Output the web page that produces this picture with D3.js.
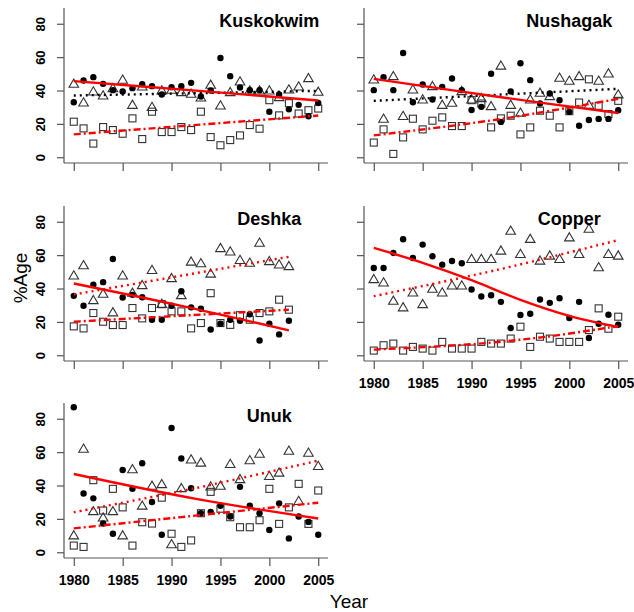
<!DOCTYPE html>
<html>
<head>
<meta charset="utf-8">
<script src="https://cdn.jsdelivr.net/npm/d3@7"></script>
<style>
  html, body { margin: 0; padding: 0; background: #fff; }
  svg { display: block; font-family: "Liberation Sans", Arial, sans-serif; }
</style>
</head>
<body>
<svg id="chart" width="634" height="612"></svg>
<script>
// ---------------- DATA ----------------
const yearTicks = [1980, 1985, 1990, 1995, 2000, 2005];
const yTicks = [0, 20, 40, 60, 80];

const years26 = [1980,1981,1982,1983,1984,1985,1986,1987,1988,1989,1990,1991,1992,1993,1994,1995,1996,1997,1998,1999,2000,2001,2002,2003,2004,2005];
const years23 = [1980,1981,1982,1983,1984,1985,1986,1987,1988,1989,1990,1991,1992,1993,1994,1995,1996,1997,1998,1999,2000,2001,2002];

const panelNames = ["Kuskokwim", "Nushagak", "Deshka", "Copper", "Unuk"];

// Kuskokwim
const kuskokwimCircles   = [33,46,48,44,40.2,39.4,41.4,43.8,42.6,37.6,42,42.6,44.6,36.4,40,59.5,48.6,41.8,40.2,40.2,27.3,37.6,28.7,31.4,24.6,32.5];
const kuskokwimTriangles = [43.6,32.4,39,36.6,41,46,31,42,29.7,39.6,40,38.6,37.6,35.4,43,30.6,38.6,45,39.6,39.6,39.6,35.6,40.2,42,47,38.8];
const kuskokwimSquares   = [21.3,17.3,8.2,18.1,16.3,14.1,23.3,10.9,27.3,15.1,15.1,18.1,16.3,27.3,12.1,7.2,10.3,13.1,19.3,17.1,34.2,25.1,32.4,26.2,28.2,29.2];
// Nushagak
const nushagakCircles    = [40.2,48,40.2,62.5,33,43.6,34.6,42.2,47.2,40.2,28.3,30.2,50,21.2,39.4,56.3,46.2,32.2,38.2,34.2,27.2,18.9,22.3,23,23,28.2];
const nushagakTriangles  = [46.2,22.7,48.2,24.3,40.2,34.2,42.2,31,32.2,39.2,34.2,35,30.2,54.5,31,26.3,34.2,38.2,36.2,47.2,45.4,48.2,31,45.4,49.8,37.2];
const nushagakSquares    = [8.8,16.7,2,11.9,23.1,16.7,21.9,23.9,18.7,18.7,34.2,32.2,17.9,23.3,24.9,13.7,17.9,27.9,24.9,17.9,27.6,32.8,46.7,30.8,25.9,33.8];
// Deshka (1980-2002)
const deshkaCircles      = [35.6,29.7,42.3,43.8,57.7,34.6,36.2,34.8,21.3,21.3,29.7,38.4,28.7,27.9,15.4,18.9,21.3,20.7,24.6,8.8,18.9,12.5,20.7];
const deshkaTriangles    = [47.4,53.5,32.6,36.4,25.3,47.4,37,41.6,50.7,30.4,45.8,35.6,55.7,54.7,48.5,63.8,61.8,56.7,55,67,56,54,53];
const deshkaSquares      = [17.3,16.1,25.3,20.1,18.1,18.1,28.3,22.1,28.3,30.6,26.3,26.3,16.1,19.3,37.2,19.3,18.2,24,21.3,25.3,26.3,33.3,27.3];
// Copper
const copperCircles      = [52.3,52.3,61.3,69.5,58.3,66.3,59.3,54.3,56.5,55.1,39.4,35.2,36,32,16.3,24.1,24.9,33.4,31.4,34.2,22.3,32,10.3,18.9,24.3,18.3];
const copperTriangles    = [45.2,43.2,32.2,28.3,37.2,30.2,39.4,37.2,41.4,41.4,57.3,57.3,57.3,62.3,74.2,60.3,69.3,56.3,59.3,57.3,70.2,60.3,75.4,52.3,60.3,59.3];
const copperSquares      = [2.8,6,7,2.8,5,4,2.8,8,4,4,4,8,7,7,10,17.1,5,11.1,10,8,8,8,15.1,28.1,15.9,23.1];
// Unuk
const unukCircles        = [86.9,35.2,32.3,17.2,11.1,49.3,38,53.3,30.1,10.5,74.5,56.2,38.4,23.4,24.2,27.9,21.4,39.2,27.9,23.4,13.3,29.3,8.3,21.4,18.2,10.5];
const unukTriangles      = [9.7,61.6,24.2,20.4,24.2,9.7,49.3,27.5,39.4,40.4,4.4,38,55.2,53.3,39,39.4,52.5,43.4,54.7,58.6,45.3,47.3,60.4,30.3,59.2,51.3];
const unukSquares        = [4,3.2,43.2,25,38,26.9,4,18,17.2,32.7,11.1,3.2,7.1,23.4,36.2,26.1,21,15,15,19.2,38,17,26.9,41,17,37];

// Fitted trend lines: [year, value]
const kuskokwimFitCircles   = [[1980,45.6],[1992.5,39.9],[2005,34]];
const kuskokwimFitTriangles = [[1980,37],[2005,39.8]];
const kuskokwimFitSquares   = [[1980,13.7],[2005,25]];
const nushagakFitCircles    = [[1980,47],[1992.5,36.4],[2005,26.5]];
const nushagakFitTriangles  = [[1980,33.8],[2005,41]];
const nushagakFitSquares    = [[1980,13.1],[1992.5,22.5],[2005,35]];
const deshkaFitCircles      = [[1980,43],[1991,29.6],[2002,14.9]];
const deshkaFitTriangles    = [[1980,36.4],[2002,59]];
const deshkaFitSquares      = [[1980,20.1],[2002,27.3]];
const copperFitCircles      = [[1980,64.3],[1985,55.4],[1990,45],[1995,33.2],[2000,23.6],[2005,16.9]];
const copperFitTriangles    = [[1980,35.4],[1992.5,51],[2005,69]];
const copperFitSquares      = [[1980,3.4],[1990,6.6],[1997.5,11],[2005,17.5]];
const unukFitCircles        = [[1980,46.9],[1992.5,32],[2005,20.2]];
const unukFitTriangles      = [[1980,24],[1992.5,38.5],[2005,54.9]];
const unukFitSquares        = [[1980,14.3],[2005,29.7]];

// colour of each trend (red = significant, black = not)
const fitColors = {
  Kuskokwim: ["#ff0000", "#000000", "#ff0000"],
  Nushagak:  ["#ff0000", "#000000", "#ff0000"],
  Deshka:    ["#ff0000", "#ff0000", "#ff0000"],
  Copper:    ["#ff0000", "#ff0000", "#ff0000"],
  Unuk:      ["#ff0000", "#ff0000", "#ff0000"]
};

// ---------------- LAYOUT ----------------
const panels = [
  {name:"Kuskokwim", col:0, row:0, years:years26, c:kuskokwimCircles, t:kuskokwimTriangles, s:kuskokwimSquares, fc:kuskokwimFitCircles, ft:kuskokwimFitTriangles, fs:kuskokwimFitSquares, yLab:true,  xLab:false},
  {name:"Nushagak",  col:1, row:0, years:years26, c:nushagakCircles,  t:nushagakTriangles,  s:nushagakSquares,  fc:nushagakFitCircles,  ft:nushagakFitTriangles,  fs:nushagakFitSquares,  yLab:false, xLab:false},
  {name:"Deshka",    col:0, row:1, years:years23, c:deshkaCircles,    t:deshkaTriangles,    s:deshkaSquares,    fc:deshkaFitCircles,    ft:deshkaFitTriangles,    fs:deshkaFitSquares,    yLab:true,  xLab:false},
  {name:"Copper",    col:1, row:1, years:years26, c:copperCircles,    t:copperTriangles,    s:copperSquares,    fc:copperFitCircles,    ft:copperFitTriangles,    fs:copperFitSquares,    yLab:false, xLab:true},
  {name:"Unuk",      col:0, row:2, years:years26, c:unukCircles,      t:unukTriangles,      s:unukSquares,      fc:unukFitCircles,      ft:unukFitTriangles,      fs:unukFitSquares,      yLab:true,  xLab:true}
];

const colX = [[64, 328], [364, 628]];
const rowY = [[163, 8], [361, 206], [558, 403]];
const axisColor = "#555";
const markStroke = "#333";

const svg = d3.select("#chart");

const triPath = "M0,-5.4L4.8,2.8L-4.8,2.8Z";

panels.forEach(p => {
  const x = d3.scaleLinear().domain([1979, 2006]).range(colX[p.col]);
  const y = d3.scaleLinear().domain([-3.44, 89.44]).range(rowY[p.row]);
  const g = svg.append("g");

  // L-shaped box
  g.append("line").attr("x1", x.range()[0]).attr("x2", x.range()[0])
    .attr("y1", y.range()[0]).attr("y2", y.range()[1])
    .attr("stroke", axisColor).attr("stroke-width", 1.2);
  g.append("line").attr("x1", x.range()[0]).attr("x2", x.range()[1])
    .attr("y1", y.range()[0]).attr("y2", y.range()[0])
    .attr("stroke", axisColor).attr("stroke-width", 1.2);

  // Y axis
  const yAxis = d3.axisLeft(y).tickValues(yTicks).tickSize(7).tickSizeOuter(0).tickFormat(p.yLab ? d3.format("d") : "");
  const ya = g.append("g").attr("transform", `translate(${x.range()[0]},0)`).call(yAxis);
  ya.select(".domain").remove();
  ya.selectAll(".tick line").attr("stroke", axisColor).attr("stroke-width", 1.2);
  ya.selectAll(".tick text")
    .attr("x", null).attr("dy", null)
    .attr("transform", "translate(-19,0) rotate(-90)")
    .attr("text-anchor", "middle")
    .attr("fill", "#000")
    .style("font-size", "13px").style("font-weight", "bold")
    .style("font-family", "'Liberation Sans', Arial, sans-serif");

  // X axis
  const xAxis = d3.axisBottom(x).tickValues(yearTicks).tickSize(8).tickSizeOuter(0).tickFormat(p.xLab ? d3.format("d") : "");
  const xa = g.append("g").attr("transform", `translate(0,${y.range()[0]})`).call(xAxis);
  xa.select(".domain").remove();
  xa.selectAll(".tick line").attr("stroke", axisColor).attr("stroke-width", 1.2);
  xa.selectAll(".tick text")
    .attr("y", 27).attr("dy", null)
    .attr("fill", "#000")
    .style("font-size", "14px").style("font-weight", "bold")
    .style("font-family", "'Liberation Sans', Arial, sans-serif");

  // squares
  g.selectAll(".sq").data(p.s).enter().append("rect")
    .attr("x", (d, i) => x(p.years[i]) - 3.5).attr("y", d => y(d) - 3.5)
    .attr("width", 7).attr("height", 7)
    .attr("fill", "none").attr("stroke", markStroke).attr("stroke-width", 1.1);
  // triangles
  g.selectAll(".tr").data(p.t).enter().append("path")
    .attr("d", triPath)
    .attr("transform", (d, i) => `translate(${x(p.years[i])},${y(d)})`)
    .attr("fill", "none").attr("stroke", markStroke).attr("stroke-width", 1.1);
  // circles
  g.selectAll(".ci").data(p.c).enter().append("circle")
    .attr("cx", (d, i) => x(p.years[i])).attr("cy", d => y(d))
    .attr("r", 3.2).attr("fill", "#000");

  // trend lines
  const line = d3.line().x(d => x(d[0])).y(d => y(d[1])).curve(d3.curveCatmullRom.alpha(0.5));
  const cols = fitColors[p.name];
  g.append("path").attr("d", line(p.fs)).attr("fill", "none")
    .attr("stroke", cols[2]).attr("stroke-width", 2.4).attr("stroke-dasharray", "7,3,2,3");
  g.append("path").attr("d", line(p.ft)).attr("fill", "none")
    .attr("stroke", cols[1]).attr("stroke-width", 2.4).attr("stroke-dasharray", "2,4");
  g.append("path").attr("d", line(p.fc)).attr("fill", "none")
    .attr("stroke", cols[0]).attr("stroke-width", 2.4);

  // title
  g.append("text").attr("x", x(2000)).attr("y", y(78))
    .attr("text-anchor", "middle")
    .style("font-size", "18px").style("font-weight", "bold")
    .attr("fill", "#000")
    .text(p.name);
});

// axis titles
svg.append("text").attr("transform", "translate(27,278) rotate(-90)")
  .attr("text-anchor", "middle").style("font-size", "19px").attr("fill", "#000").text("%Age");
svg.append("text").attr("x", 349).attr("y", 608)
  .attr("text-anchor", "middle").style("font-size", "19px").attr("fill", "#000").text("Year");
</script>
</body>
</html>
